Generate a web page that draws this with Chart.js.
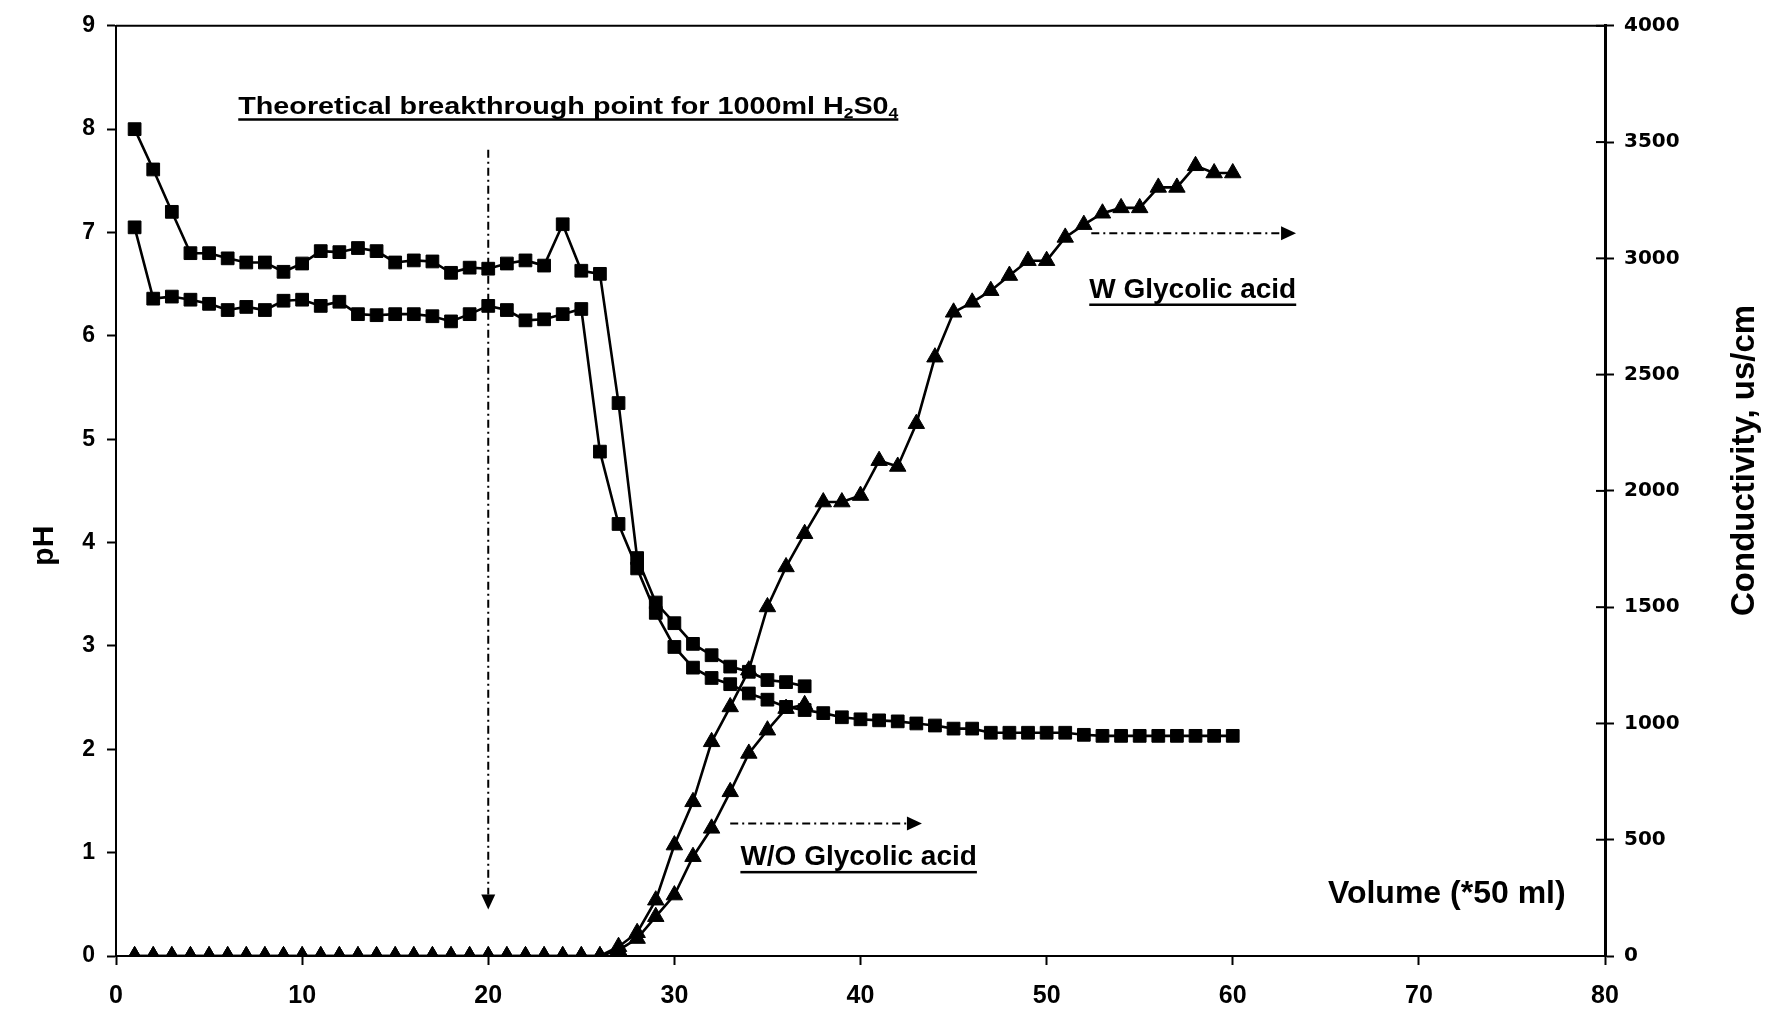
<!DOCTYPE html>
<html>
<head>
<meta charset="utf-8">
<script src="https://cdn.jsdelivr.net/npm/chart.js@4.4.1/dist/chart.umd.min.js"></script>
<style>
  html, body { margin: 0; padding: 0; background: #fff; }
</style>
</head>
<body>
<canvas id="chart" width="1769" height="1009"></canvas>
<script>
// volume in units of 50 ml
const volume = [1, 2, 3, 4, 5, 6, 7, 8, 9, 10, 11, 12, 13, 14, 15, 16, 17, 18, 19, 20,
  21, 22, 23, 24, 25, 26, 27, 28, 29, 30, 31, 32, 33, 34, 35, 36, 37, 38, 39, 40,
  41, 42, 43, 44, 45, 46, 47, 48, 49, 50, 51, 52, 53, 54, 55, 56, 57, 58, 59, 60];

// pH, with glycolic acid (runs to 60)
const phWith = [7.05, 6.36, 6.38, 6.35, 6.31, 6.25, 6.28, 6.25, 6.34, 6.35,
  6.29, 6.33, 6.21, 6.20, 6.21, 6.21, 6.19, 6.14, 6.21, 6.29,
  6.25, 6.15, 6.16, 6.21, 6.26, 4.88, 4.18, 3.75, 3.32, 2.99,
  2.79, 2.69, 2.63, 2.54, 2.48, 2.41, 2.38, 2.35, 2.31, 2.29,
  2.28, 2.27, 2.25, 2.23, 2.20, 2.20, 2.16, 2.16, 2.16, 2.16,
  2.16, 2.14, 2.13, 2.13, 2.13, 2.13, 2.13, 2.13, 2.13, 2.13];

// pH, without glycolic acid (runs to 37)
const phWithout = [8.00, 7.61, 7.20, 6.80, 6.80, 6.75, 6.71, 6.71, 6.62, 6.70,
  6.82, 6.81, 6.85, 6.82, 6.71, 6.73, 6.72, 6.61, 6.66, 6.65,
  6.70, 6.73, 6.68, 7.08, 6.63, 6.60, 5.35, 3.85, 3.42, 3.22,
  3.02, 2.91, 2.80, 2.75, 2.67, 2.65, 2.61];

// conductivity, us/cm
const condWith = [0, 0, 0, 0, 0, 0, 0, 0, 0, 0,
  0, 0, 0, 0, 0, 0, 0, 0, 0, 0,
  0, 0, 0, 0, 0, 0, 40, 100, 240, 477,
  663, 921, 1071, 1229, 1501, 1673, 1816, 1952, 1952, 1980,
  2130, 2105, 2289, 2575, 2768, 2811, 2861, 2926, 2990, 2990,
  3090, 3145, 3194, 3217, 3217, 3305, 3305, 3398, 3367, 3367];

const condWithout = [0, 0, 0, 0, 0, 0, 0, 0, 0, 0,
  0, 0, 0, 0, 0, 0, 0, 0, 0, 0,
  0, 0, 0, 0, 0, 0, 25, 75, 169, 262,
  427, 549, 706, 871, 971, 1064, 1080];

const volumeTicks = [0, 10, 20, 30, 40, 50, 60, 70, 80];
const phTicks = [0, 1, 2, 3, 4, 5, 6, 7, 8, 9];
const condTicks = [0, 500, 1000, 1500, 2000, 2500, 3000, 3500, 4000];

// annotation anchors, in data units
const breakthroughVolume = 20;
const breakthroughFrom = 7.8;
const breakthroughTo = 0.45;

const FONT = "'Liberation Sans', Arial, sans-serif";

function pairs(xs, ys) {
  return ys.map((y, i) => ({ x: xs[i], y: y }));
}

function dashArrow(ctx, x1, y1, x2, y2) {
  const ang = Math.atan2(y2 - y1, x2 - x1);
  const head = 15, half = 7;
  const bx = x2 - head * Math.cos(ang), by = y2 - head * Math.sin(ang);
  ctx.lineWidth = 2;
  ctx.setLineDash([8, 4, 2, 4]);
  ctx.beginPath();
  ctx.moveTo(x1, y1);
  ctx.lineTo(bx, by);
  ctx.stroke();
  ctx.setLineDash([]);
  ctx.beginPath();
  ctx.moveTo(x2, y2);
  ctx.lineTo(bx - half * Math.sin(ang), by + half * Math.cos(ang));
  ctx.lineTo(bx + half * Math.sin(ang), by - half * Math.cos(ang));
  ctx.closePath();
  ctx.fill();
}

// parts: [text, isSubscript]; drawn centred on cx with baseline y
function underlined(ctx, parts, cx, y, size, stretch) {
  ctx.save();
  ctx.translate(cx, y);
  ctx.scale(stretch, 1);
  let total = 0;
  parts.forEach(p => {
    ctx.font = 'bold ' + (p[1] ? Math.round(size * 0.62) : size) + 'px ' + FONT;
    total += ctx.measureText(p[0]).width;
  });
  let x = -total / 2;
  ctx.textBaseline = 'alphabetic';
  ctx.textAlign = 'left';
  parts.forEach(p => {
    ctx.font = 'bold ' + (p[1] ? Math.round(size * 0.62) : size) + 'px ' + FONT;
    ctx.fillText(p[0], x, p[1] ? size * 0.2 : 0);
    x += ctx.measureText(p[0]).width;
  });
  ctx.fillRect(-total / 2, size * 0.2, total, 2.5);
  ctx.restore();
}

const annotate = {
  id: 'annotate',
  afterDraw(chart) {
    const { ctx, chartArea: a, scales } = chart;
    const xs = scales.x, ph = scales.y, cond = scales.y2;
    ctx.save();
    ctx.strokeStyle = '#000';
    ctx.fillStyle = '#000';

    // top frame line
    ctx.lineWidth = 2;
    ctx.beginPath();
    ctx.moveTo(a.left, a.top);
    ctx.lineTo(a.right, a.top);
    ctx.stroke();

    // right axis ticks cross the axis
    cond.ticks.forEach(t => {
      const y = cond.getPixelForValue(t.value);
      ctx.beginPath();
      ctx.moveTo(a.right - 9, y);
      ctx.lineTo(a.right, y);
      ctx.stroke();
    });

    // theoretical breakthrough arrow
    const bx = xs.getPixelForValue(breakthroughVolume);
    dashArrow(ctx, bx, ph.getPixelForValue(breakthroughFrom), bx, ph.getPixelForValue(breakthroughTo));
    underlined(ctx, [['Theoretical breakthrough point for 1000ml H', false], ['2', true], ['S0', false], ['4', true]],
      xs.getPixelForValue(24.3), ph.getPixelForValue(8.15), 23, 1.25);

    // W glycolic acid
    dashArrow(ctx, xs.getPixelForValue(52.4), cond.getPixelForValue(3108), xs.getPixelForValue(63.4), cond.getPixelForValue(3108));
    underlined(ctx, [['W Glycolic acid', false]], xs.getPixelForValue(57.85), cond.getPixelForValue(2830), 28, 1);

    // W/O glycolic acid
    dashArrow(ctx, xs.getPixelForValue(33.0), cond.getPixelForValue(570), xs.getPixelForValue(43.3), cond.getPixelForValue(570));
    underlined(ctx, [['W/O Glycolic acid', false]], xs.getPixelForValue(39.9), cond.getPixelForValue(390), 28, 1);

    // x axis title inside the plot
    ctx.font = 'bold 32px ' + FONT;
    ctx.textAlign = 'center';
    ctx.textBaseline = 'middle';
    ctx.fillText('Volume (*50 ml)', xs.getPixelForValue(71.5), ph.getPixelForValue(0.6));

    // y axis titles, both read bottom to top
    ctx.save();
    ctx.translate(a.left - 71, ph.getPixelForValue(3.97));
    ctx.rotate(-Math.PI / 2);
    ctx.font = 'bold 30px ' + FONT;
    ctx.fillText('pH', 0, 0);
    ctx.restore();

    ctx.save();
    ctx.translate(a.right + 140, cond.getPixelForValue(2131));
    ctx.rotate(-Math.PI / 2);
    ctx.font = 'bold 33px ' + FONT;
    ctx.fillText('Conductivity, us/cm', 0, 0);
    ctx.restore();

    ctx.restore();
  }
};

const lineStyle = {
  borderColor: '#000',
  backgroundColor: '#000',
  borderWidth: 2.6,
  pointBorderWidth: 1,
  pointBorderColor: '#000',
  pointBackgroundColor: '#000',
  tension: 0,
  fill: false
};

const axisGrid = {
  drawOnChartArea: false,
  drawTicks: true,
  tickLength: 9,
  tickWidth: 2,
  tickColor: '#000'
};

const plain = v => String(v);

new Chart(document.getElementById('chart'), {
  type: 'line',
  data: {
    datasets: [
      Object.assign({ label: 'pH W/O glycolic acid', data: pairs(volume, phWithout), yAxisID: 'y', pointStyle: 'rect', pointRadius: 9 }, lineStyle),
      Object.assign({ label: 'pH W glycolic acid', data: pairs(volume, phWith), yAxisID: 'y', pointStyle: 'rect', pointRadius: 9 }, lineStyle),
      Object.assign({ label: 'Conductivity W/O glycolic acid', data: pairs(volume, condWithout), yAxisID: 'y2', pointStyle: 'triangle', pointRadius: 9.5 }, lineStyle),
      Object.assign({ label: 'Conductivity W glycolic acid', data: pairs(volume, condWith), yAxisID: 'y2', pointStyle: 'triangle', pointRadius: 9.5 }, lineStyle)
    ]
  },
  options: {
    responsive: false,
    animation: false,
    devicePixelRatio: 1,
    layout: { padding: { top: 25, left: 0, right: 0, bottom: 0 } },
    plugins: { legend: { display: false }, tooltip: { enabled: false } },
    scales: {
      x: {
        type: 'linear',
        min: 0, max: 80,
        afterBuildTicks: s => { s.ticks = volumeTicks.map(v => ({ value: v })); },
        afterFit: s => { s.height = 53; },
        grid: axisGrid,
        border: { display: true, color: '#000', width: 2 },
        ticks: { color: '#000', padding: 16, maxRotation: 0, callback: plain, font: { family: FONT, size: 25, weight: 'bold' } }
      },
      y: {
        position: 'left',
        min: 0, max: 9,
        afterBuildTicks: s => { s.ticks = phTicks.map(v => ({ value: v })); },
        afterFit: s => { s.width = 116; },
        grid: axisGrid,
        border: { display: true, color: '#000', width: 2 },
        ticks: { color: '#000', padding: 12, callback: plain, font: { family: FONT, size: 23, weight: 'bold' } }
      },
      y2: {
        position: 'right',
        min: 0, max: 4000,
        afterBuildTicks: s => { s.ticks = condTicks.map(v => ({ value: v })); },
        afterFit: s => { s.width = 164; },
        grid: axisGrid,
        border: { display: true, color: '#000', width: 3 },
        ticks: { color: '#000', padding: 10, callback: plain, font: { family: "'DejaVu Sans', sans-serif", size: 20, weight: 'bold' } }
      }
    }
  },
  plugins: [annotate]
});
</script>
</body>
</html>
